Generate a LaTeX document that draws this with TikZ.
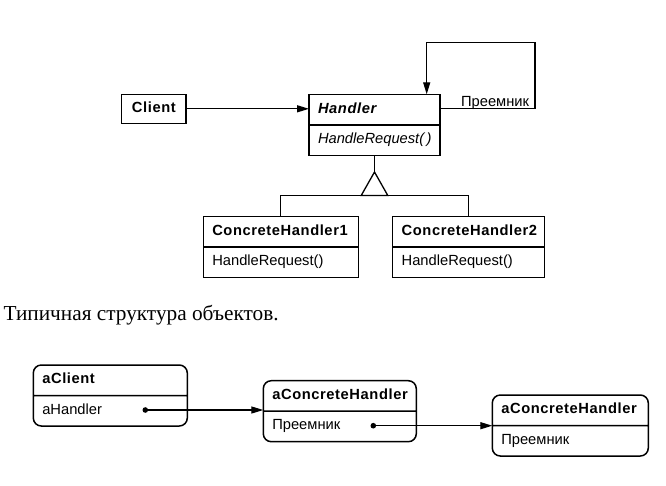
\documentclass[tikz,border=0pt]{standalone}
\usepackage{fontspec}
\setmainfont{Liberation Serif}
\newfontfamily\umlsans{Liberation Sans}
\newfontfamily\umlbold[LetterSpace=4]{Liberation Sans}
\usetikzlibrary{shapes.multipart,arrows.meta}
\newcommand{\clsname}[1]{{\umlbold\bfseries #1}\strut}
\tikzset{
  umltext/.style={font=\umlsans\fontsize{14.7}{17.4}\selectfont},
  umlclass/.style={umltext, rectangle split, rectangle split parts=2, draw,
    line width=1.5pt, text width=#1, align=left, inner xsep=9pt,
    inner ysep=5.8pt, outer sep=0pt, anchor=north west},
  umlobject/.style={umlclass=#1, rounded corners=8pt},
  assoc/.style={line width=1.3pt, -{Triangle[length=12pt,width=7pt]}},
  plainline/.style={line width=1.3pt},
}
\begin{document}
\begin{tikzpicture}[x=1pt,y=-1pt]
\useasboundingbox (0,0) rectangle (666,485);
\node[umltext, draw, line width=1.5pt, minimum width=64.3pt, minimum height=29pt,
  inner xsep=9pt, outer sep=0pt, anchor=north west] (client) at (121.7,94.3) {\clsname{Client}};
\node[umlclass=113pt] (handler) at (309,94.3)
  {{\umlbold\bfseries\itshape Handler}\strut \nodepart{two} \itshape HandleRequest(\,)\strut};
\node[umlclass=137pt] (ch1) at (203.3,216.7)
  {\clsname{ConcreteHandler1} \nodepart{two} HandleRequest()\strut};
\node[umlclass=134pt] (ch2) at (392.7,216.7)
  {\clsname{ConcreteHandler2} \nodepart{two} HandleRequest()\strut};
\draw[assoc] (client.east) -- (client.east -| handler.west);
\coordinate (loop) at (535,42.7);
\draw[assoc] (client.east -| handler.east) -| (loop) -| ([xshift=-13.3pt]handler.north east);
\node[umltext, anchor=base east, inner sep=0pt] (succ) at (529.3,106) {Преемник};
\coordinate (apex) at ([yshift=-16.7pt]handler.south);
\coordinate (bar) at ([yshift=-23.5pt]apex);
\draw[plainline] (handler.south) -- (apex);
\draw[plainline, line join=miter] (apex) -- ++(13.3,23.5) -- ++(-26.6,0) -- cycle;
\draw[plainline] (ch1.north) |- (bar) -| (ch2.north);

\node[font=\fontsize{21.3}{25}\selectfont, anchor=base west, inner sep=0pt] (caption) at (3.3,320)
  {Типичная структура объектов.};

\node[umlobject=136pt] (aclient) at (33.3,365)
  {\clsname{aClient} \nodepart{two} aHandler\strut};
\node[umlobject=135pt] (ach1) at (263.3,380.7)
  {\clsname{aConcreteHandler} \nodepart{two} Преемник\strut};
\node[umlobject=138pt] (ach2) at (492.3,395)
  {\clsname{aConcreteHandler} \nodepart{two} Преемник\strut};
\coordinate (ptr1) at ([shift={(-42,14.5)}]aclient.text split east);
\coordinate (ptr2) at ([shift={(-43,14.5)}]ach1.text split east);
\fill (ptr1) circle (2.8pt);
\fill (ptr2) circle (2.8pt);
\draw[assoc] (ptr1) -- (ptr1 -| ach1.west);
\draw[assoc] (ptr2) -- (ptr2 -| ach2.west);
\end{tikzpicture}
\end{document}
